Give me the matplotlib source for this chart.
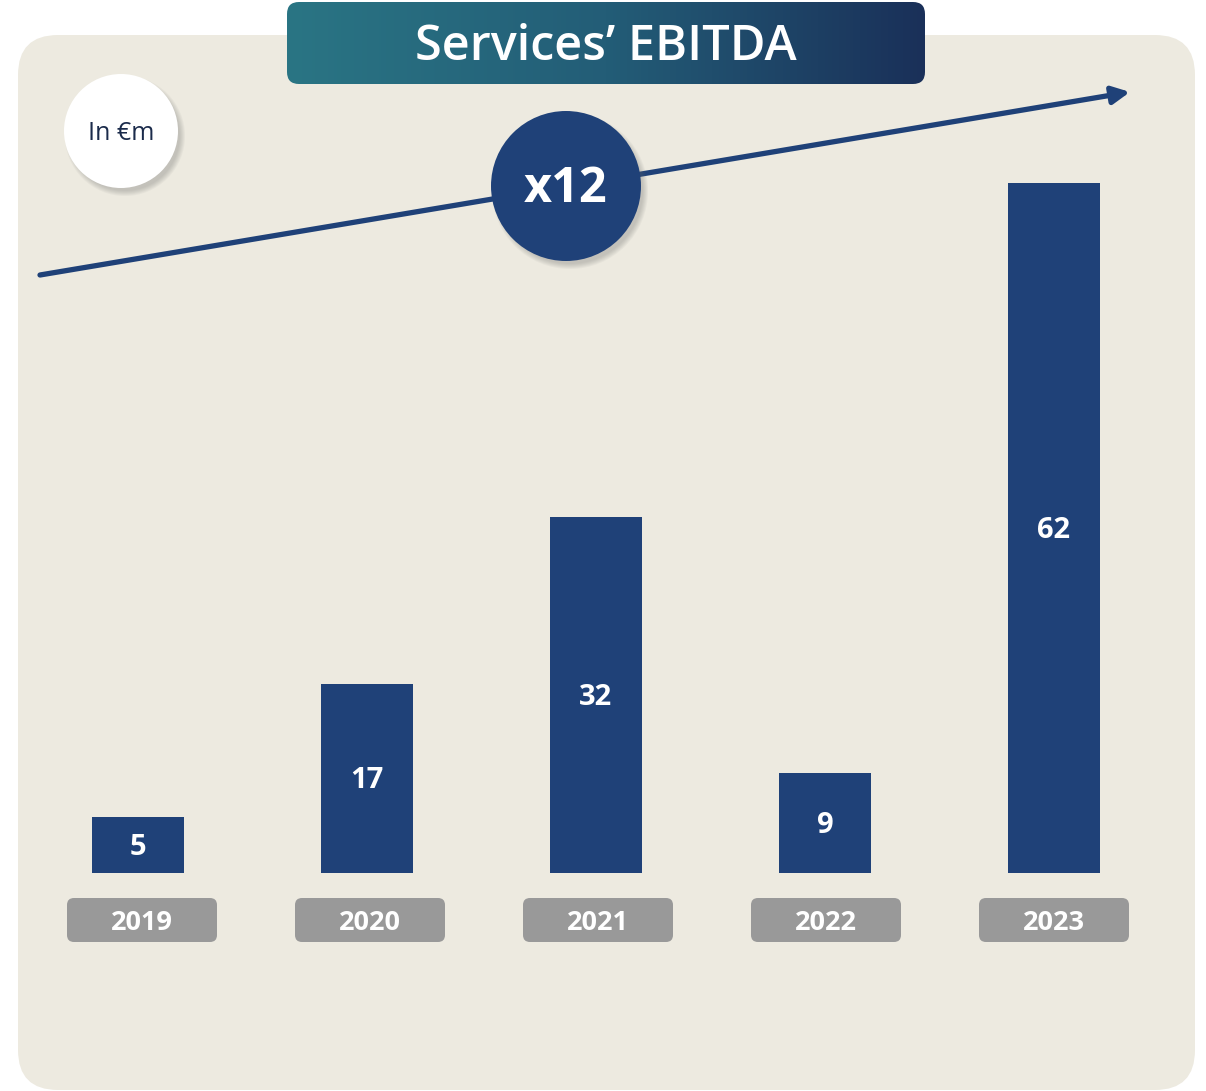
import numpy as np
import matplotlib.pyplot as plt
from matplotlib.patches import FancyBboxPatch, Circle
from matplotlib.colors import LinearSegmentedColormap
from matplotlib.transforms import offset_copy

# Data
years = ['2019', '2020', '2021', '2022', '2023']
ebitda = [5, 17, 32, 9, 62]
growth_label = 'x12'
unit_label = 'In €m'
title = 'Services\u2019 EBITDA'

navy = '#1F4178'
beige = '#EDEAE0'
grey = '#999999'
font = ['Open Sans', 'DejaVu Sans']
plt.rcParams['font.family'] = font

W, H = 1206, 1091
fig = plt.figure(figsize=(W / 100, H / 100), dpi=100)
fig.patch.set_facecolor('white')

# background axes in pixel coordinates (origin top-left)
bg = fig.add_axes([0, 0, 1, 1])
bg.set_xlim(0, W)
bg.set_ylim(H, 0)
bg.axis('off')

# rounded beige panel
bg.add_patch(FancyBboxPatch((18 + 40, 35 + 40), 1177 - 80, 1055 - 80,
                            boxstyle='round,pad=40', fc=beige, ec='none', zorder=0))

# title box with gradient
tbox = FancyBboxPatch((287 + 12, 2 + 12), 638 - 24, 82 - 24,
                      boxstyle='round,pad=12', fc='none', ec='none', zorder=3)
bg.add_patch(tbox)
cmap = LinearSegmentedColormap.from_list('tg', ['#2A7584', '#235D77', '#1A3059'])
grad = np.linspace(0, 1, 256).reshape(1, -1)
im = bg.imshow(grad, cmap=cmap, extent=(287, 925, 84, 2), aspect='auto', zorder=3)
im.set_clip_path(tbox)
bg.text(606, 48, title, color='white', fontsize=35, fontweight='semibold',
        ha='center', va='center', zorder=4)

# growth arrow
bg.annotate('', xy=(1130, 92), xytext=(40, 275),
            arrowprops=dict(arrowstyle='-|>', lw=3.8, color=navy,
                            mutation_scale=26, shrinkA=0, shrinkB=0), zorder=2)


def shadow_circle(cx, cy, r, fc):
    for k in range(6):
        bg.add_patch(Circle((cx + 4, cy + 5), r + 3 - k, fc='#6b6b6b', ec='none',
                            alpha=0.06, zorder=4))
    bg.add_patch(Circle((cx, cy), r, fc=fc, ec='none', zorder=5))


shadow_circle(121, 131, 57, 'white')
bg.text(121, 134, unit_label, color='#1B2B4B', fontsize=18, ha='center', va='center', zorder=6)

shadow_circle(566, 186, 75, navy)
bg.text(566, 189, growth_label, color='white', fontsize=35, fontweight='bold',
        ha='center', va='center', zorder=6)

# bars axes
bottom_px, top_px = 873, 183
left_px, right_px = 23.5, 1168.5
ax = fig.add_axes([left_px / W, (H - bottom_px) / H,
                   (right_px - left_px) / W, (bottom_px - top_px) / H])
ax.set_facecolor('none')
x = np.arange(len(years))
ax.bar(x, ebitda, width=0.40, color=navy, zorder=3)
ax.set_xlim(-0.5, len(years) - 0.5)
ax.set_ylim(0, max(ebitda))
ax.axis('off')
lab_tr = offset_copy(ax.transData, fig=fig, x=0, y=-2.5, units='dots')
for xi, v in zip(x, ebitda):
    ax.text(xi, v / 2, str(v), color='white', fontsize=21, fontweight='bold',
            ha='center', va='center', zorder=4, transform=lab_tr)

# year label boxes (spaced slightly tighter than the bars)
for xi, yr in zip(x, years):
    cx = ax.transData.transform((xi, 0))[0] + 4 - xi
    bg.add_patch(FancyBboxPatch((cx - 75 + 7, 898 + 7), 150 - 14, 44 - 14,
                                boxstyle='round,pad=7', fc=grey, ec='none', zorder=3))
    bg.text(cx, 923, yr, color='white', fontsize=19.5, fontweight='bold',
            ha='center', va='center', zorder=4)

fig.savefig('out.png', dpi=100)
